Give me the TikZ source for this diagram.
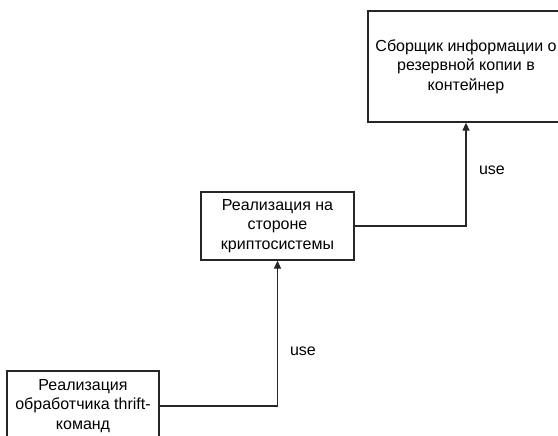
\documentclass[tikz,border=0pt]{standalone}
\usepackage{fontspec}
\setmainfont{Liberation Sans}
\usetikzlibrary{arrows.meta}
\begin{document}
\begin{tikzpicture}[x=1pt,y=-1pt,
  box/.style={draw=black!85,line width=1.3pt,align=center,inner sep=0pt,font=\fontsize{16}{19.5}\selectfont},
  conn/.style={draw=black!85,line width=1.3pt,-{Triangle[length=8pt,width=7pt]}},
  lbl/.style={font=\fontsize{16}{18}\selectfont}]
\useasboundingbox (0,0) rectangle (558,436);
\node[box,minimum width=196pt,minimum height=111pt] (top) at (466,66.5) {Сборщик информации о\\резервной копии в\\контейнер};
\node[box,minimum width=153pt,minimum height=68pt] (mid) at (277.5,226) {Реализация на\\стороне\\криптосистемы};
\node[box,minimum width=152pt,minimum height=70pt] (bot) at (83,406) {Реализация\\обработчика thrift-\\команд};
\draw[conn] (bot.east) -| (mid.south);
\draw[conn] (mid.east) -| (top.south);
\node[lbl] (u1) at (492,170) {use};
\node[lbl] (u2) at (303,351) {use};
\end{tikzpicture}
\end{document}
